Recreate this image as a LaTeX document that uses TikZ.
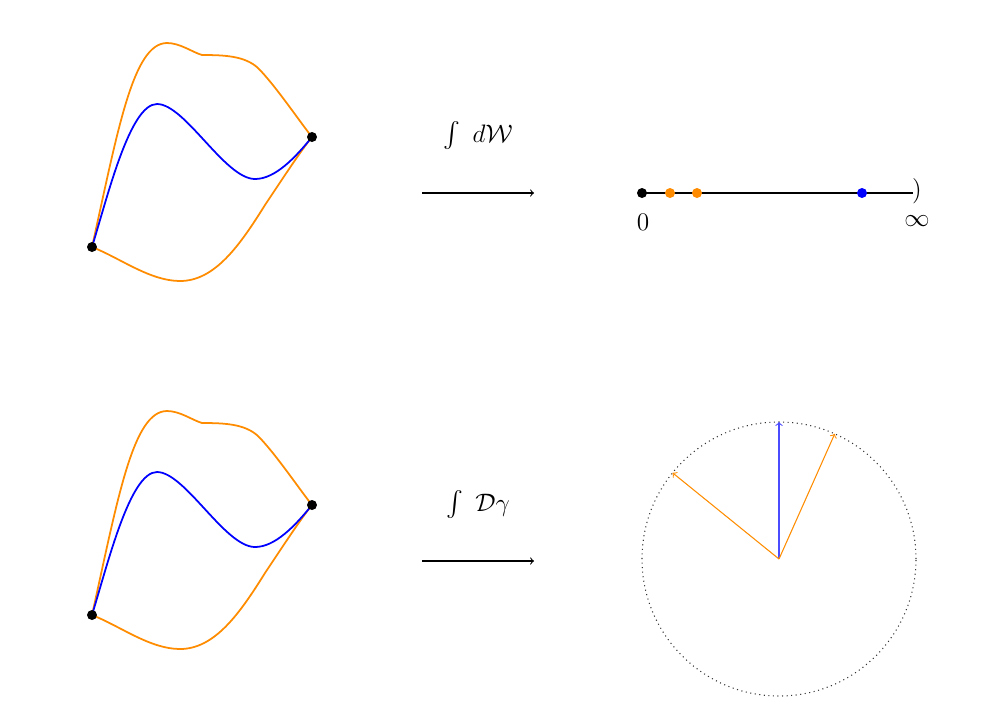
\documentclass[tikz,border=0pt]{standalone}
\usepackage{amsmath}
\definecolor{myorange}{RGB}{255,140,0}
\begin{document}
\begin{tikzpicture}[x=0.02cm,y=0.02cm,
  dot/.style={circle,fill=#1,inner sep=0pt,minimum size=0.2cm},
  dot/.default=black,
  curveO/.style={myorange,line width=1pt},
  curveB/.style={blue,line width=1pt},
  maparrow/.style={->,line width=0.6pt},
  lbl/.style={font=\Large,inner sep=1pt}]
\useasboundingbox (0,0) rectangle (993,-725);
% two copies of the path picture
\foreach \s/\n in {0/t,368/b}{
\begin{scope}[yshift=-\s*0.02cm]
  \coordinate (A\n) at (92,-247);
  \coordinate (B\n) at (312,-137);
  \draw[curveO] (A\n) .. controls (118,-130) and (133,-43) .. (167,-43)
     .. controls (180,-43) and (192,-52) .. (202,-55)
     .. controls (225,-55) and (245,-56) .. (258,-68)
     .. controls (275,-85) and (300,-122) .. (B\n);
  \draw[curveO] (A\n) .. controls (120,-258) and (150,-281) .. (180,-281)
     .. controls (215,-281) and (240,-245) .. (265,-205)
     .. controls (285,-175) and (300,-152) .. (B\n);
  \draw[curveB] (A\n) .. controls (108,-195) and (130,-104) .. (157,-104)
     .. controls (185,-104) and (225,-179) .. (255,-179)
     .. controls (275,-179) and (295,-158) .. (B\n);
  \node[dot] (PA\n) at (A\n) {};
  \node[dot] (PB\n) at (B\n) {};
  \coordinate (S\n) at (422,-193);
  \coordinate (E\n) at (534,-193);
  \draw[maparrow] (S\n) -- (E\n);
\end{scope}}
% labels
\node[lbl] (L1) at (478,-136) {$\int\ d\mathcal{W}$};
\node[lbl] (L2) at (478,-505) {$\int\ \mathcal{D}\gamma$};
% number line
\node[dot] (z0) at (642,-193) {};
\coordinate (zend) at (913,-193);
\draw[line width=0.6pt] (z0.center) -- (zend);
\node[dot=myorange] (o1) at (670,-193) {};
\node[dot=myorange] (o2) at (697,-193) {};
\node[dot=blue] (b1) at (862,-193) {};
\node[font=\Large,inner sep=0pt] (par) at (917,-191) {$)$};
\node[font=\Large,inner sep=0pt] (l0) at (643,-222) {$0$};
\node[font=\Large,inner sep=0pt] (linf) at (917,-221) {$\infty$};
% circle
\node[circle,draw=black!80,dotted,line width=0.6pt,inner sep=0pt,outer sep=0pt,minimum size=274*0.02cm] (C) at (779,-559) {};
\draw[->,blue!70,line width=0.6pt] (C.center) -- (C.90);
\draw[->,myorange,line width=0.6pt] (C.center) -- (C.141);
\draw[->,myorange,line width=0.6pt] (C.center) -- (C.66);
\end{tikzpicture}
\end{document}
